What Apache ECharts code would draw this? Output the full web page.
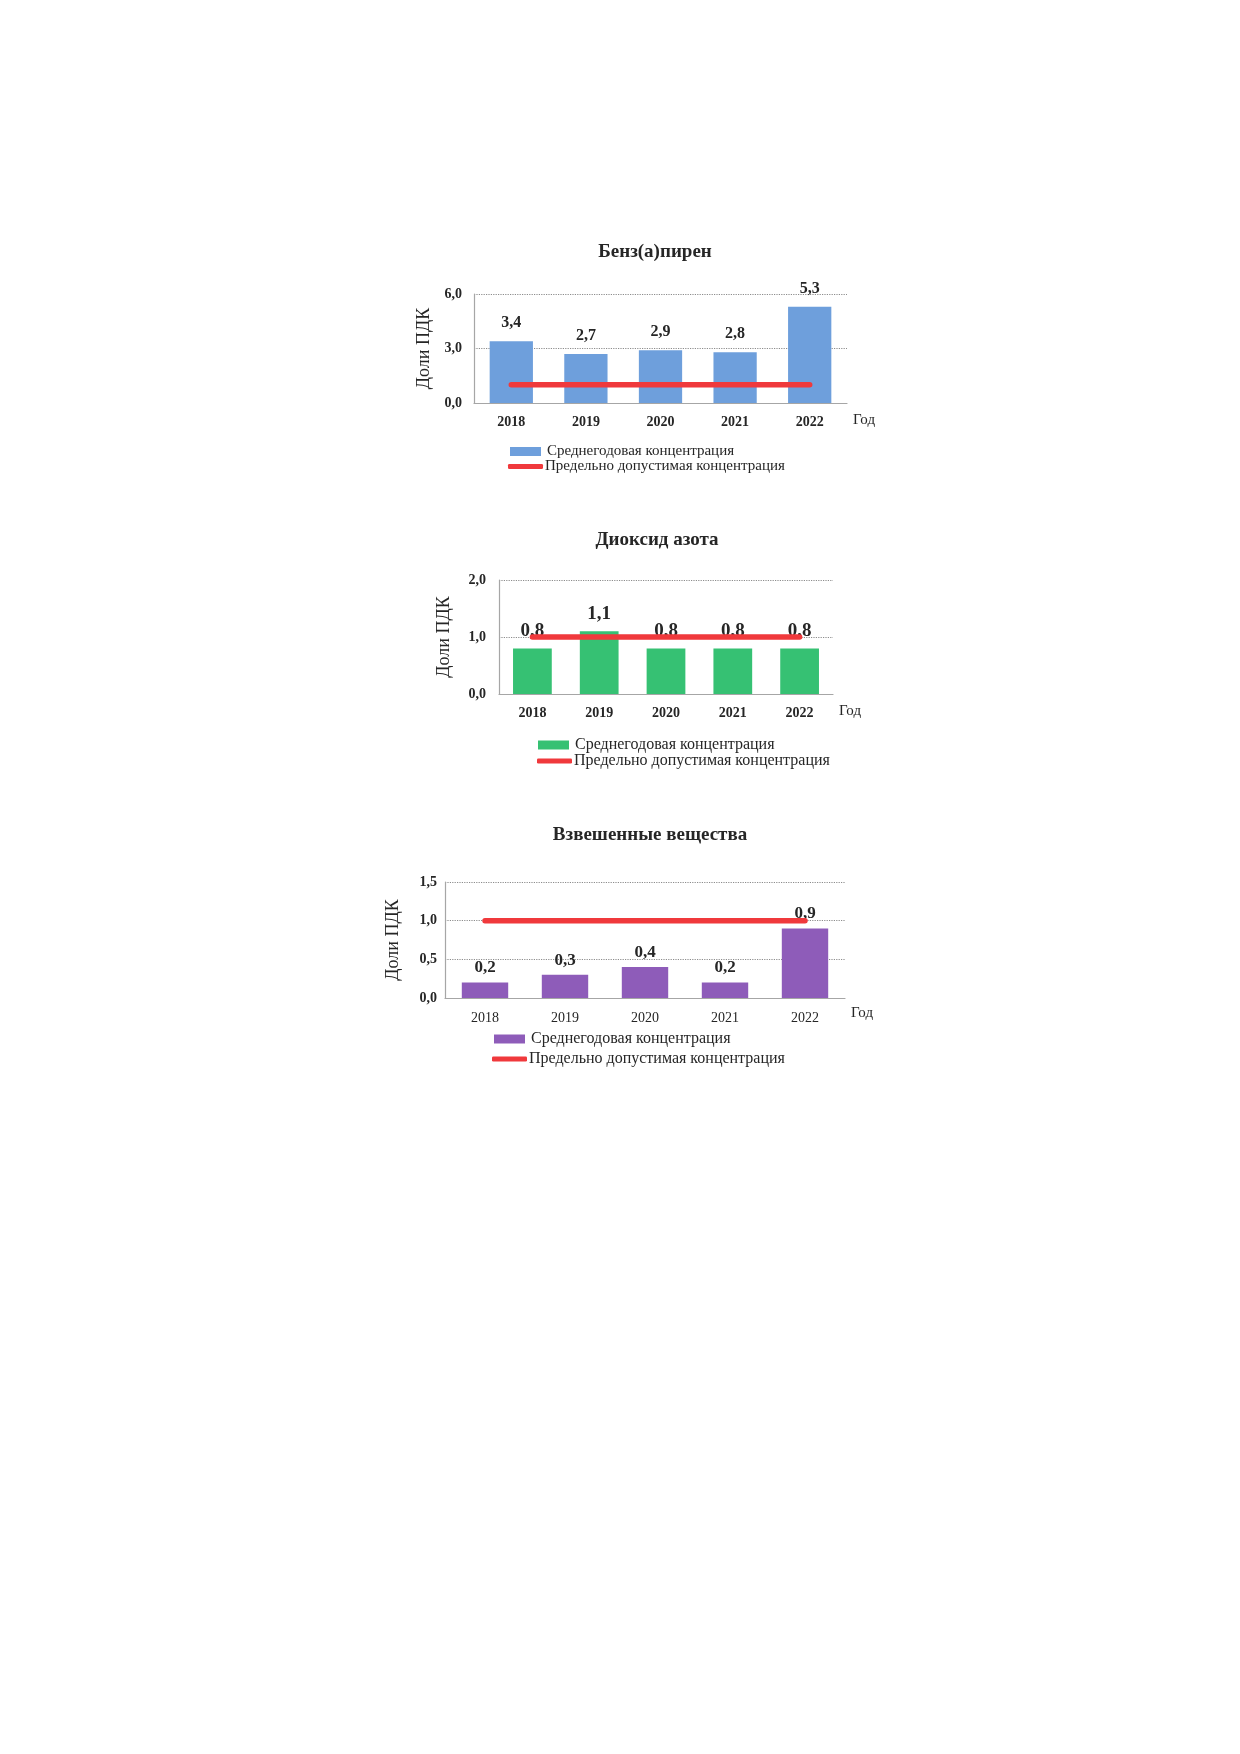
<!DOCTYPE html>
<html>
<head>
<meta charset="utf-8">
<script src="https://cdn.jsdelivr.net/npm/echarts@6/dist/echarts.min.js"></script>
<style>
html,body{margin:0;padding:0;background:#fff;width:1240px;height:1754px;overflow:hidden;}
.c{position:absolute;left:0;width:1240px;}
</style>
</head>
<body>
<div id="c1" class="c" style="top:200px;height:290px;"></div>
<div id="c2" class="c" style="top:500px;height:290px;"></div>
<div id="c3" class="c" style="top:800px;height:280px;"></div>
<script>
// ---- data ----
const years = ['2018', '2019', '2020', '2021', '2022'];
const benzapyrene = [3.4, 2.7, 2.9, 2.8, 5.3];
const nitrogenDioxide = [0.8, 1.1, 0.8, 0.8, 0.8];
const suspendedMatter = [0.2, 0.3, 0.4, 0.2, 0.9];
const pdk = [1, 1, 1, 1, 1];
const titles = ['Бенз(а)пирен', 'Диоксид азота', 'Взвешенные вещества'];
const seriesNames = ['Среднегодовая концентрация', 'Предельно допустимая концентрация'];
const yAxisName = 'Доли ПДК';
const xAxisName = 'Год';

const FONT = '"Liberation Serif", "Times New Roman", serif';
const TXT = '#262626';
const fmt = v => Number(v).toFixed(1).replace('.', ',');

function build(cfg) {
  return {
    animation: false,
    textStyle: { fontFamily: FONT },
    title: {
      text: cfg.title, left: cfg.titleX, top: cfg.titleY, textAlign: 'center', textVerticalAlign: 'middle',
      padding: 0,
      textStyle: { fontFamily: FONT, fontSize: 19, fontWeight: 'bold', color: TXT }
    },
    legend: [
      {
        data: [{ name: seriesNames[0], icon: 'rect' }],
        left: cfg.lg1[0], top: cfg.lg1[1], padding: 0, itemWidth: 31, itemHeight: 9, itemGap: 0,
        textStyle: { fontFamily: FONT, fontSize: cfg.legendFont, color: TXT, padding: [0, 0, 0, 1] },
        selectedMode: false
      },
      {
        data: [{ name: seriesNames[1], icon: 'roundRect' }],
        left: cfg.lg2[0], top: cfg.lg2[1], padding: 0, itemWidth: 35, itemHeight: 5, itemGap: 0,
        textStyle: { fontFamily: FONT, fontSize: cfg.legendFont, color: TXT, padding: [0, 0, 0, -3] },
        selectedMode: false
      }
    ],
    grid: { left: cfg.grid[0], top: cfg.grid[1], width: cfg.grid[2], height: cfg.grid[3] },
    xAxis: {
      type: 'category', data: years,
      axisTick: { show: false },
      axisLine: { lineStyle: { color: '#a6a6a6', width: 1.2 } },
      axisLabel: { fontFamily: FONT, fontSize: 14, fontWeight: cfg.xBold ? 'bold' : 'normal', color: TXT, margin: cfg.xMargin },
      name: xAxisName, nameLocation: 'end', nameGap: 6,
      nameTextStyle: { fontFamily: FONT, fontSize: 15, color: TXT, verticalAlign: 'top', padding: [cfg.nameDy, 0, 0, 0] }
    },
    yAxis: {
      type: 'value', min: 0, max: cfg.max, interval: cfg.interval,
      axisLine: { show: true, lineStyle: { color: '#a6a6a6', width: 1.2 } },
      axisTick: { show: false },
      splitLine: { lineStyle: { type: 'dotted', color: '#8c8c8c', width: 1.2 } },
      axisLabel: { fontFamily: FONT, fontSize: 14, fontWeight: 'bold', color: TXT, margin: cfg.yMargin, formatter: fmt },
      name: yAxisName, nameLocation: 'middle', nameRotate: 90, nameGap: cfg.yNameGap,
      nameTextStyle: { fontFamily: FONT, fontSize: 18, color: TXT }
    },
    series: [
      {
        name: seriesNames[0], type: 'bar', data: cfg.values, barWidth: '58%',
        itemStyle: { color: cfg.color },
        label: { show: true, position: 'top', distance: cfg.labelDist, formatter: p => fmt(p.value),
          fontFamily: FONT, fontSize: cfg.labelFont, fontWeight: 'bold', color: TXT }
      },
      {
        name: seriesNames[1], type: 'line', data: pdk, symbol: 'none', z: 5,
        itemStyle: { color: '#f0393c' },
        lineStyle: { color: '#f0393c', width: 5.5, cap: 'round' }
      }
    ]
  };
}

const cfgs = [
  { el: 'c1', title: titles[0], titleX: 655, titleY: 52, grid: [474, 94, 373, 109], max: 6, interval: 3,
    values: benzapyrene, color: '#6e9fdc', labelFont: 16, labelDist: 10, xBold: true, xMargin: 12, yMargin: 12,
    yNameGap: 41, nameDy: 10, legendFont: 15, lg1: [510, 244], lg2: [508, 259] },
  { el: 'c2', title: titles[1], titleX: 657, titleY: 40, grid: [499, 80, 334, 114], max: 2, interval: 1,
    values: nitrogenDioxide, color: '#36c173', labelFont: 19, labelDist: 8, xBold: true, xMargin: 12, yMargin: 13,
    yNameGap: 46, nameDy: 10, legendFont: 16, lg1: [538, 237], lg2: [537, 253] },
  { el: 'c3', title: titles[2], titleX: 650, titleY: 35, grid: [445, 82, 400, 116], max: 1.5, interval: 0.5,
    values: suspendedMatter, color: '#8e5cb9', labelFont: 17, labelDist: 6, xBold: false, xMargin: 13, yMargin: 8,
    yNameGap: 43, nameDy: 8, legendFont: 16, lg1: [494, 231], lg2: [492, 251] }
];

cfgs.forEach(c => {
  const chart = echarts.init(document.getElementById(c.el), null, { renderer: 'canvas' });
  chart.setOption(build(c));
});
</script>
</body>
</html>
